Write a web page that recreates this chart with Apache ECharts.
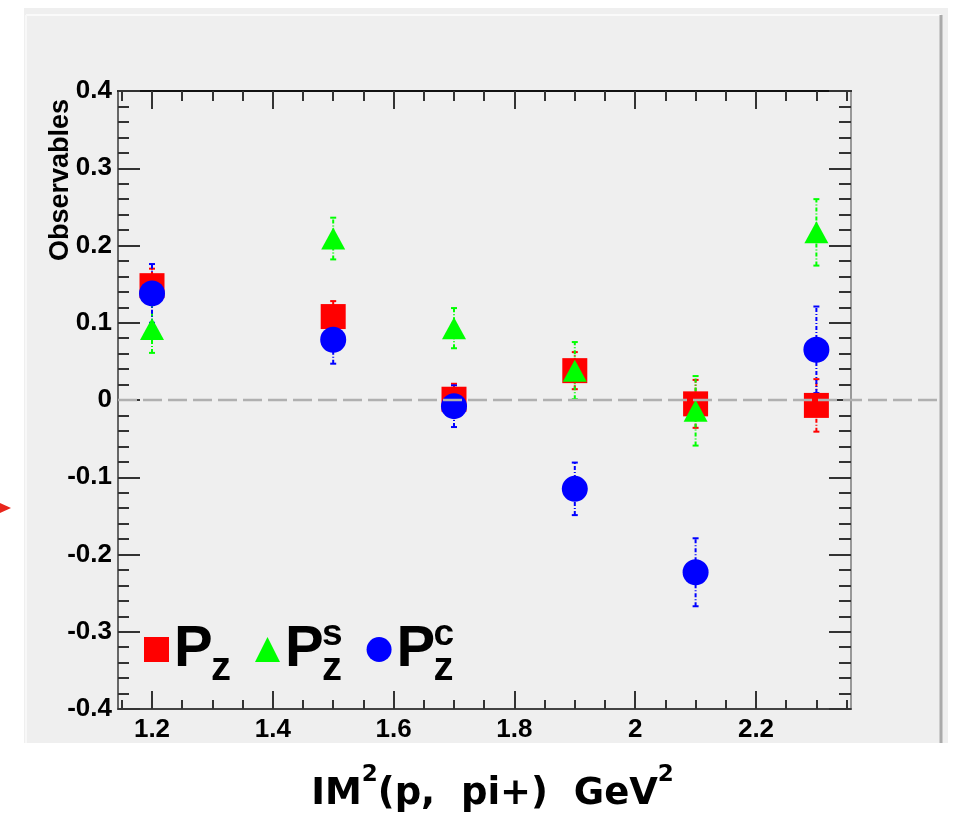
<!DOCTYPE html>
<html><head><meta charset="utf-8">
<script src="https://cdn.jsdelivr.net/npm/echarts@6/dist/echarts.min.js"></script>
<style>html,body{margin:0;padding:0;background:#fff}#c{width:960px;height:822px}</style>
</head><body><div id="c"></div>
<script>
// ---- data ----
const xValues = [1.2, 1.5, 1.7, 1.9, 2.1, 2.3];
const pz      = [0.148, 0.108, 0.001, 0.038, -0.005, -0.007];
const pzErr   = [0.022, 0.020, 0.020, 0.024, 0.031, 0.034];
const psz     = [0.092, 0.209, 0.093, 0.038, -0.014, 0.217];
const pszErr  = [0.031, 0.027, 0.026, 0.037, 0.045, 0.043];
const pcz     = [0.138, 0.078, -0.008, -0.115, -0.223, 0.065];
const pczErr  = [0.038, 0.031, 0.027, 0.034, 0.044, 0.056];
const xRange = [1.1437, 2.3573];
const yRange = [-0.4, 0.4];
const yInterval = 0.1;
const xMajorTicks = [1.2, 1.4, 1.6, 1.8, 2.0, 2.2];
const xMinorTicks = [1.15, 1.25, 1.3, 1.35, 1.45, 1.5, 1.55, 1.65, 1.7, 1.75, 1.85, 1.9, 1.95, 2.05, 2.1, 2.15, 2.25, 2.3, 2.35];
const seriesNames = ['Pz', 'Psz', 'Pcz'];
const seriesColors = ['#ff0000', '#00ff00', '#0000ff'];
const seriesSymbols = ['rect', 'triangle', 'circle'];
const legendLabels = {Pz: '{p|P}{z|z}', Psz: '{p|P}{s|s}{z|z}', Pcz: '{p|P}{s|c}{z|z}'};
const yTitle = 'Observables';
const xTitle = '{a|IM}{s|2}{a|(p,  pi+)  GeV}{s|2}';

const FONT = "'Liberation Sans', Arial, sans-serif";
const chart = echarts.init(document.getElementById('c'), null, {renderer: 'canvas'});

function errSeries(name, vals, errs, color) {
  return {
    name: name + ' err', type: 'custom', xAxisIndex: 0, yAxisIndex: 0,
    data: xValues.map((x, i) => [x, vals[i] - errs[i], vals[i] + errs[i]]),
    encode: {x: 0, y: [1, 2]},
    renderItem: function (params, api) {
      const lo = api.coord([api.value(0), api.value(1)]);
      const hi = api.coord([api.value(0), api.value(2)]);
      const c = 3;
      return {type: 'group', children: [
        {type: 'line', shape: {x1: lo[0], y1: lo[1], x2: hi[0], y2: hi[1]}, style: {stroke: color, lineWidth: 2, lineDash: [4, 2, 1, 2]}},
        {type: 'line', shape: {x1: hi[0] - c, y1: hi[1], x2: hi[0] + c, y2: hi[1]}, style: {stroke: color, lineWidth: 2}},
        {type: 'line', shape: {x1: lo[0] - c, y1: lo[1], x2: lo[0] + c, y2: lo[1]}, style: {stroke: color, lineWidth: 2}}
      ]};
    }
  };
}
function ptSeries(idx, vals) {
  return {
    name: seriesNames[idx], type: 'scatter', xAxisIndex: 0, yAxisIndex: 0,
    symbol: seriesSymbols[idx],
    symbolSize: idx === 1 ? [24, 22] : (idx === 2 ? 26 : 25),
    itemStyle: {color: seriesColors[idx], opacity: 1},
    emphasis: {disabled: true},
    data: xValues.map((x, i) => [x, vals[i]])
  };
}

const tickStyle = {color: '#333', width: 2};
const axisBase = {type: 'value', min: xRange[0], max: xRange[1], splitLine: {show: false}};
const TFONT = "'DejaVu Sans', sans-serif";
const option = {
  animation: false,
  backgroundColor: '#ffffff',
  grid: {left: 118, right: 109, top: 91, bottom: 113, containLabel: false},
  xAxis: [
    Object.assign({}, axisBase, {position: 'bottom',
      axisLine: {show: true, onZero: false, lineStyle: {color: '#444', width: 2}},
      axisTick: {show: true, inside: true, length: 18, customValues: xMajorTicks, lineStyle: tickStyle},
      axisLabel: {show: true, customValues: xMajorTicks, margin: 8, fontSize: 26, fontWeight: 'bold', fontFamily: FONT, color: '#000'},
      name: xTitle, nameLocation: 'middle', nameGap: 63,
      nameTextStyle: {padding: [0, 0, 0, 16], rich: {
        a: {fontSize: 37, fontWeight: 'bold', fontFamily: TFONT, color: '#000', lineHeight: 44},
        s: {fontSize: 23, fontWeight: 'bold', fontFamily: TFONT, color: '#000', verticalAlign: 'top', height: 7}
      }}
    }),
    Object.assign({}, axisBase, {position: 'bottom',
      axisLine: {show: false, onZero: false},
      axisTick: {show: true, inside: true, length: 9, customValues: xMinorTicks, lineStyle: tickStyle},
      axisLabel: {show: false}
    }),
    Object.assign({}, axisBase, {position: 'top',
      axisLine: {show: true, onZero: false, lineStyle: {color: '#111', width: 2}},
      axisTick: {show: true, inside: true, length: 18, customValues: xMajorTicks, lineStyle: tickStyle},
      axisLabel: {show: false}
    }),
    Object.assign({}, axisBase, {position: 'top',
      axisLine: {show: false, onZero: false},
      axisTick: {show: true, inside: true, length: 10, customValues: xMinorTicks, lineStyle: tickStyle},
      axisLabel: {show: false}
    })
  ],
  yAxis: [
    {type: 'value', position: 'left', min: yRange[0], max: yRange[1], interval: yInterval,
      splitLine: {show: false},
      axisLine: {show: true, onZero: false, lineStyle: {color: '#666', width: 2}},
      axisTick: {show: true, inside: true, length: 22, lineStyle: tickStyle},
      minorTick: {show: true, splitNumber: 5, length: 11, lineStyle: tickStyle},
      axisLabel: {show: true, margin: 6, fontSize: 26, fontWeight: 'bold', fontFamily: FONT, color: '#000'}
    },
    {type: 'value', position: 'right', min: yRange[0], max: yRange[1], interval: yInterval,
      splitLine: {show: false},
      axisLine: {show: true, onZero: false, lineStyle: {color: '#999', width: 2}},
      axisTick: {show: true, inside: true, length: 22, lineStyle: tickStyle},
      minorTick: {show: true, splitNumber: 5, length: 12, lineStyle: tickStyle},
      axisLabel: {show: false}
    }
  ],
  legend: {
    left: 144, top: 616, padding: 0, itemGap: 24, itemWidth: 25, itemHeight: 25,
    selectedMode: false, orient: 'horizontal',
    formatter: function (name) { return legendLabels[name]; },
    textStyle: {color: '#000', rich: {
      p: {fontSize: 58, fontWeight: 'bold', fontFamily: FONT, color: '#000', width: 37, lineHeight: 60},
      s: {fontSize: 37, fontWeight: 'bold', fontFamily: FONT, color: '#000', width: 0, verticalAlign: 'top', height: 30},
      z: {fontSize: 40, fontWeight: 'bold', fontFamily: FONT, color: '#000', width: 22, verticalAlign: 'bottom', height: 22}
    }}
  },
  graphic: [
    {type: 'rect', z: -10, silent: true, shape: {x: 24, y: 8, width: 924, height: 735}, style: {fill: '#efefef'}},
    {type: 'line', z: -9, silent: true, shape: {x1: 26, y1: 15, x2: 941, y2: 15}, style: {stroke: '#fafafa', lineWidth: 2}},
    {type: 'line', z: -9, silent: true, shape: {x1: 26, y1: 15, x2: 26, y2: 743}, style: {stroke: '#f8f8f8', lineWidth: 2}},
    {type: 'line', z: -9, silent: true, shape: {x1: 941, y1: 15, x2: 941, y2: 743}, style: {stroke: '#aaaaaa', lineWidth: 3}},
    {type: 'polygon', silent: true, shape: {points: [[0, 503], [11, 508], [0, 513]]}, style: {fill: '#e8261c'}},
    {type: 'text', silent: true, x: 61, y: 180, rotation: Math.PI / 2,
      style: {text: yTitle, fontSize: 27, fontWeight: 'bold', fontFamily: FONT, fill: '#000', align: 'center', verticalAlign: 'middle'}}
  ],
  series: [
    errSeries('Pz', pz, pzErr, seriesColors[0]), ptSeries(0, pz),
    errSeries('Psz', psz, pszErr, seriesColors[1]), ptSeries(1, psz),
    errSeries('Pcz', pcz, pczErr, seriesColors[2]), ptSeries(2, pcz)
  ]
};
option.legend.data = seriesNames.map((n, i) => ({name: n, icon: seriesSymbols[i], itemStyle: {color: seriesColors[i]}}));
chart.setOption(option);

// zero reference line through the y scale, extending to the frame edge
const y0 = chart.convertToPixel({yAxisIndex: 0}, 0);
const xL = chart.convertToPixel({xAxisIndex: 0}, xRange[0]);
option.graphic.push({type: 'line', z: 50, silent: true, shape: {x1: xL, y1: y0, x2: 941, y2: y0},
  style: {stroke: '#b0b0b0', lineWidth: 2.5, lineDash: [19, 6]}});
chart.setOption({graphic: option.graphic});
</script>
</body></html>
